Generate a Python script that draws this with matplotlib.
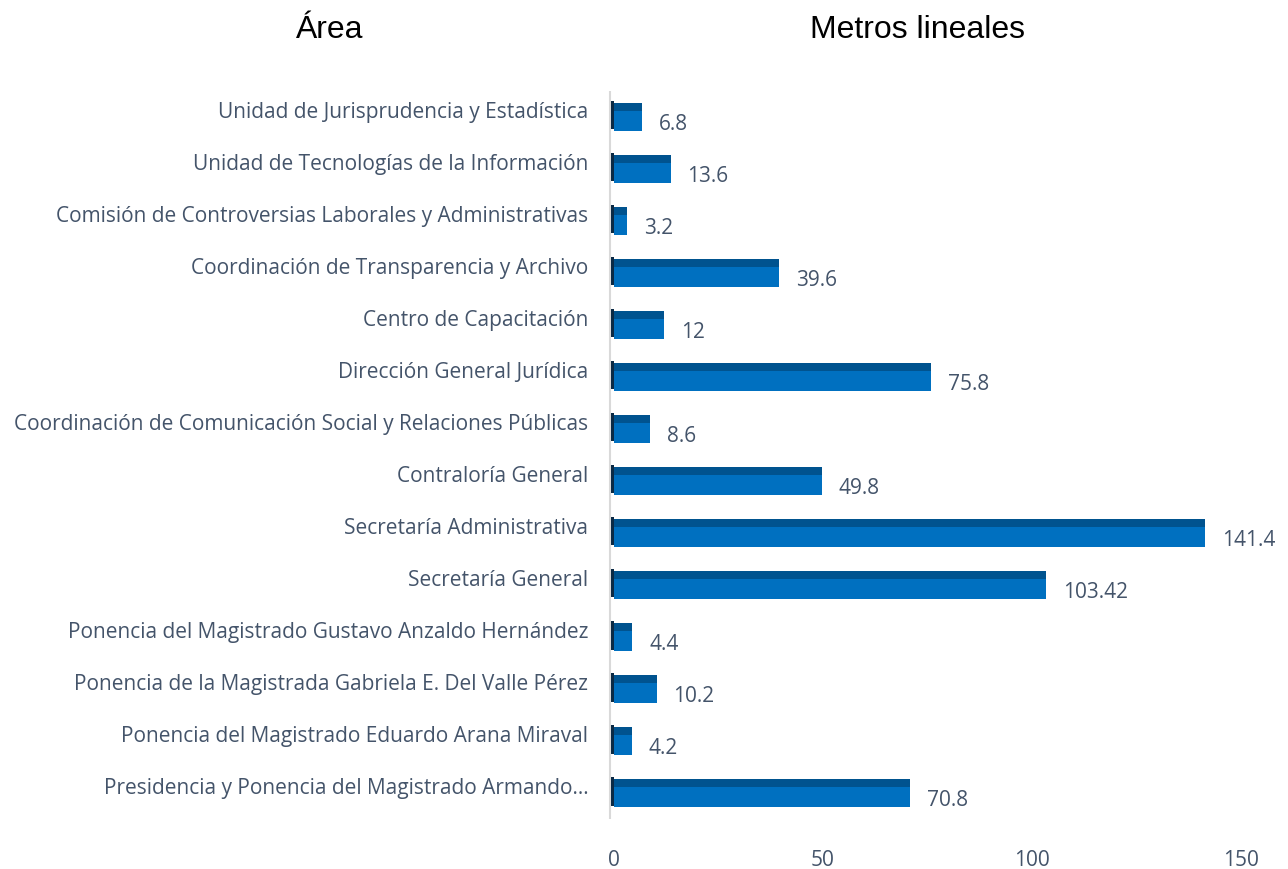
import matplotlib
matplotlib.use("Agg")
import matplotlib.pyplot as plt
import matplotlib.transforms as mtransforms

# categories listed from bottom to top
areas = [
    "Presidencia y Ponencia del Magistrado Armando…",
    "Ponencia del Magistrado Eduardo Arana Miraval",
    "Ponencia de la Magistrada Gabriela E. Del Valle Pérez",
    "Ponencia del Magistrado Gustavo Anzaldo Hernández",
    "Secretaría General",
    "Secretaría Administrativa",
    "Contraloría General",
    "Coordinación de Comunicación Social y Relaciones Públicas",
    "Dirección General Jurídica",
    "Centro de Capacitación",
    "Coordinación de Transparencia y Archivo",
    "Comisión de Controversias Laborales y Administrativas",
    "Unidad de Tecnologías de la Información",
    "Unidad de Jurisprudencia y Estadística",
]
metros = [70.8, 4.2, 10.2, 4.4, 103.42, 141.4, 49.8, 8.6, 75.8, 12, 39.6, 3.2, 13.6, 6.8]
etiquetas = ["70.8", "4.2", "10.2", "4.4", "103.42", "141.4", "49.8", "8.6",
             "75.8", "12", "39.6", "3.2", "13.6", "6.8"]
xticks = [0, 50, 100, 150]

TXT = "#44546A"
FRONT = "#0070C0"
TOP = "#00538F"

fig = plt.figure(figsize=(12.88, 8.69), dpi=100)
ax = fig.add_axes([0.4718, 0.0575, 0.4917, 0.8378])

ypos = list(range(len(areas)))
# front face
ax.barh([y - 0.077 for y in ypos], metros, height=0.385, color=FRONT, zorder=3)
# top face (3D look)
ax.barh([y + 0.19 for y in ypos], metros, height=0.154, color=TOP, zorder=3)
# dark side sliver at the base
ax.barh([y + 0.03 for y in ypos], [0.8] * len(ypos), left=-0.8, height=0.54,
        color="#0B2A45", zorder=4)

for y, v, t in zip(ypos, metros, etiquetas):
    ax.text(v + 4, y - 0.15, t, va="center", ha="left", fontsize=15,
            family="Open Sans", color=TXT)

ax.axvline(-1.0, color="#D9D9D9", lw=1.5, zorder=1)

ax.set_xlim(-1.5, 150)
ax.set_ylim(-0.5, 13.5)
ax.set_yticks(ypos)
ax.set_yticklabels(areas, fontsize=15, family="Open Sans", color=TXT)
ax.set_xticks(xticks)
ax.set_xticklabels([str(x) for x in xticks], fontsize=15, family="Open Sans", color=TXT)
ax.tick_params(axis="both", length=0)
ax.tick_params(axis="y", pad=14)
ax.tick_params(axis="x", pad=22)
shift = mtransforms.ScaledTranslation(0, 7 / 100, fig.dpi_scale_trans)
for lab in ax.get_yticklabels():
    lab.set_transform(lab.get_transform() + shift)
for s in ax.spines.values():
    s.set_visible(False)

fig.text(330 / 1288, 1 - 30 / 869, "Área", ha="center", va="center",
         fontsize=23, family="Liberation Sans", color="black")
fig.text(918 / 1288, 1 - 30 / 869, "Metros lineales", ha="center", va="center",
         fontsize=23, family="Liberation Sans", color="black")

fig.savefig("out.png", dpi=100)
